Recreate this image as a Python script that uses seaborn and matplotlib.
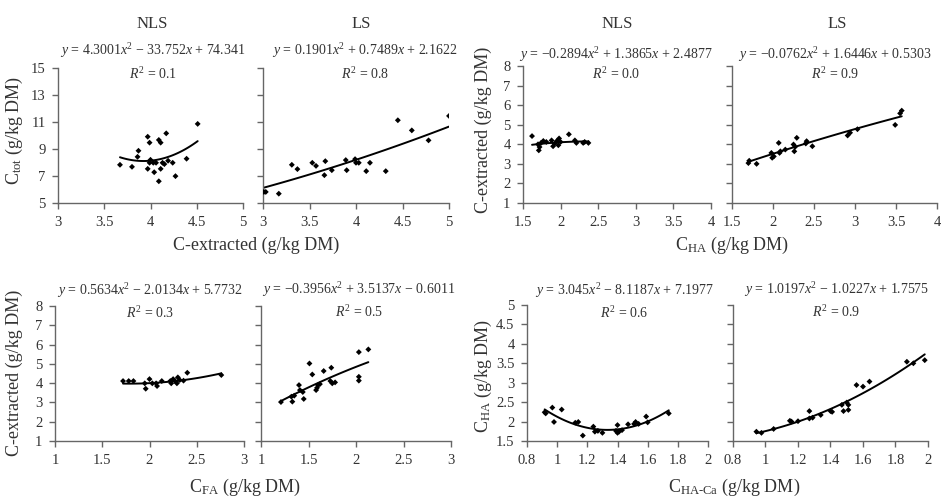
import numpy as np
import matplotlib
matplotlib.use("Agg")
import matplotlib.pyplot as plt
import seaborn as sns
from matplotlib.ticker import FuncFormatter, FixedLocator

# Data (g/kg DM)
# Row 1: C-extracted vs C_tot
cext_nls_x = [3.67, 3.80, 3.86, 3.87, 3.97, 3.99, 3.97, 3.99, 4.00, 4.03, 4.04, 4.06,
              4.09, 4.09, 4.11, 4.11, 4.13, 4.15, 4.17, 4.19, 4.24, 4.27, 4.39, 4.51]
ctot_nls_y = [7.83, 7.68, 8.42, 8.87, 9.91, 9.47, 7.53, 7.98, 8.20, 7.98, 7.28, 7.98,
              6.61, 9.67, 9.47, 7.53, 7.98, 7.88, 10.16, 8.13, 7.98, 6.99, 8.28, 10.86]
cext_ls_x = [3.01, 3.03, 3.17, 3.31, 3.37, 3.53, 3.57, 3.66, 3.67, 3.74, 3.89,
             3.90, 3.99, 4.00, 4.03, 4.11, 4.15, 4.32, 4.45, 4.60, 4.78, 5.00]
ctot_ls_y = [5.82, 5.82, 5.69, 7.83, 7.51, 7.98, 7.75, 7.06, 8.10, 7.43, 8.18,
             7.43, 8.25, 7.98, 7.98, 7.36, 7.98, 7.36, 11.13, 10.38, 9.64, 11.45]

# Row 1: C_HA vs C-extracted
cha_nls_x = [1.62, 1.70, 1.71, 1.72, 1.74, 1.77, 1.81, 1.88, 1.90, 1.92,
             1.95, 1.97, 1.98, 2.00, 2.11, 2.19, 2.21, 2.30, 2.32, 2.37]
cext_nls_y = [4.42, 4.00, 3.69, 3.86, 4.07, 4.17, 4.12, 4.20, 3.90, 4.03,
              4.17, 3.95, 4.30, 4.12, 4.51, 4.20, 4.07, 4.07, 4.12, 4.07]
cha_ls_x = [1.70, 1.71, 1.80, 1.98, 1.99, 2.01, 2.07, 2.08, 2.09, 2.15, 2.25, 2.26,
            2.27, 2.29, 2.40, 2.41, 2.48, 2.91, 2.94, 3.03, 3.49, 3.55, 3.57]
cext_ls_y = [3.04, 3.16, 3.00, 3.56, 3.31, 3.38, 4.07, 3.56, 3.64, 3.73, 3.99, 3.64,
             3.87, 4.33, 4.04, 4.16, 3.90, 4.45, 4.59, 4.77, 4.99, 5.58, 5.72]

# Row 2: C_FA vs C-extracted
cfa_nls_x = [1.72, 1.78, 1.83, 1.95, 1.96, 2.00, 2.03, 2.07, 2.08, 2.13,
             2.22, 2.23, 2.25, 2.27, 2.29, 2.30, 2.32, 2.36, 2.40, 2.76]
cext2_nls_y = [4.11, 4.11, 4.11, 3.99, 3.71, 4.21, 3.99, 3.99, 3.85, 4.11,
               4.11, 3.99, 4.21, 4.11, 3.99, 4.30, 4.16, 4.13, 4.54, 4.42]
cfa_ls_x = [1.21, 1.32, 1.33, 1.35, 1.40, 1.41, 1.44, 1.45, 1.51, 1.54, 1.58, 1.59,
            1.60, 1.62, 1.66, 1.73, 1.74, 1.75, 1.78, 2.03, 2.03, 2.03, 2.13]
cext2_ls_y = [3.02, 3.30, 3.04, 3.35, 3.90, 3.64, 3.54, 3.18, 5.02, 4.45, 3.64, 3.76,
              3.90, 3.95, 4.63, 4.11, 4.80, 3.99, 4.04, 4.33, 4.13, 5.61, 5.75]

# Row 2: C_HA-Ca vs C_HA
chaca_nls_x = [0.917, 0.924, 0.968, 0.979, 1.03, 1.12, 1.14, 1.17, 1.24, 1.25, 1.27, 1.30,
               1.39, 1.40, 1.40, 1.41, 1.43, 1.47, 1.51, 1.52, 1.54, 1.59, 1.60, 1.74]
cha_nls_y = [2.24, 2.21, 2.36, 1.99, 2.31, 1.97, 1.99, 1.64, 1.87, 1.74, 1.76, 1.71,
             1.76, 1.91, 1.71, 1.74, 1.78, 1.93, 1.94, 1.99, 1.94, 2.13, 1.98, 2.21]
chaca_ls_x = [0.944, 0.975, 1.05, 1.15, 1.16, 1.20, 1.27, 1.27, 1.29, 1.34, 1.40, 1.41,
              1.47, 1.48, 1.50, 1.51, 1.51, 1.56, 1.60, 1.64, 1.87, 1.91, 1.98]
cha_ls_y = [1.74, 1.71, 1.81, 2.02, 2.00, 2.01, 2.27, 2.08, 2.10, 2.17, 2.27, 2.25,
            2.43, 2.27, 2.49, 2.43, 2.30, 2.94, 2.90, 3.03, 3.54, 3.50, 3.58]

# quadratic trendlines as printed on the chart
fit_coefs = [
    [4.3001, -33.752, 74.341], [0.1901, 0.7489, 2.1622],
    [-0.2894, 1.3865, 2.4877], [-0.0762, 1.6446, 0.5303],
    [0.5634, -2.0134, 5.7732], [-0.3956, 3.5137, -0.6011],
    [3.045, -8.1187, 7.1977], [1.0197, -1.0227, 1.7575],
]
eq_labels = [
    r"$y$ = 4.3001$x^2$ − 33.752$x$ + 74.341", r"$y$ = 0.1901$x^2$ + 0.7489$x$ + 2.1622",
    r"$y$ = −0.2894$x^2$ + 1.3865$x$ + 2.4877", r"$y$ = −0.0762$x^2$ + 1.6446$x$ + 0.5303",
    r"$y$ = 0.5634$x^2$ − 2.0134$x$ + 5.7732", r"$y$ = −0.3956$x^2$ + 3.5137$x$ − 0.6011",
    r"$y$ = 3.045$x^2$ − 8.1187$x$ + 7.1977", r"$y$ = 1.0197$x^2$ − 1.0227$x$ + 1.7575",
]
r2_labels = ["0.1", "0.8", "0.0", "0.9", "0.3", "0.5", "0.6", "0.9"]
group_titles = ["NLS", "LS", "NLS", "LS"]

# tick labels
xticks_ctot = [3, 3.5, 4, 4.5, 5]
yticks_ctot = [5, 7, 9, 11, 13, 15]
xticks_cha = [1.5, 2, 2.5, 3, 3.5, 4]
yticks_cext = [1, 2, 3, 4, 5, 6, 7, 8]
xticks_cfa = [1, 1.5, 2, 2.5, 3]
xticks_chaca = [0.8, 1, 1.2, 1.4, 1.6, 1.8, 2]
yticks_cha = [1.5, 2, 2.5, 3, 3.5, 4, 4.5, 5]

xs = [cext_nls_x, cext_ls_x, cha_nls_x, cha_ls_x, cfa_nls_x, cfa_ls_x, chaca_nls_x, chaca_ls_x]
ys = [ctot_nls_y, ctot_ls_y, cext_nls_y, cext_ls_y, cext2_nls_y, cext2_ls_y, cha_nls_y, cha_ls_y]
xticks = [xticks_ctot] * 2 + [xticks_cha] * 2 + [xticks_cfa] * 2 + [xticks_chaca] * 2
yticks = [yticks_ctot] * 2 + [yticks_cext] * 4 + [yticks_cha] * 2

# Style
sns.set_theme(style="ticks")
plt.rcParams["font.family"] = ["Liberation Serif", "DejaVu Serif"]
plt.rcParams["mathtext.fontset"] = "custom"
plt.rcParams["mathtext.rm"] = "Liberation Serif"
plt.rcParams["mathtext.it"] = "Liberation Serif:italic"
plt.rcParams["mathtext.bf"] = "Liberation Serif:bold"
TXT = "#333333"

W, H = 941, 496
fig = plt.figure(figsize=(W / 100, H / 100), dpi=100)

# axes boxes in pixels: left, right, top, bottom
boxes = [(58, 243, 68, 203), (263, 449, 68, 203), (523, 711, 66, 203), (732, 937, 66, 203),
         (55, 244, 306, 441), (261, 451, 306, 441), (527, 708, 305, 441), (733, 928, 305, 441)]
eq_x = [153, 365, 616, 835, 150, 359, 624, 836]
eq_y = [51, 51, 55, 55, 291, 290, 291, 290]
r2_y = [74, 74, 74, 74, 313, 312, 313, 312]

fmt = FuncFormatter(lambda v, p: f"{v:g}")

for i in range(8):
    l, r, t, b = boxes[i]
    ax = fig.add_axes([l / W, 1 - b / H, (r - l) / W, (b - t) / H])
    sns.scatterplot(x=xs[i], y=ys[i], ax=ax, marker="D", s=9, color="black",
                    edgecolor="none", zorder=3)
    xx = np.linspace(min(xs[i]), max(xs[i]), 100)
    ax.plot(xx, np.polyval(fit_coefs[i], xx), color="black", lw=1.4, zorder=2)
    ax.set_xlim(xticks[i][0], xticks[i][-1])
    ax.set_ylim(yticks[i][0], yticks[i][-1])
    ax.xaxis.set_major_locator(FixedLocator(xticks[i]))
    ax.yaxis.set_major_locator(FixedLocator(yticks[i]))
    ax.xaxis.set_major_formatter(fmt)
    ax.yaxis.set_major_formatter(fmt)
    sns.despine(ax=ax)
    for s in ["left", "bottom"]:
        ax.spines[s].set_color("#666666")
        ax.spines[s].set_linewidth(1.0)
    ax.tick_params(direction="out", length=4, width=1.0, color="#666666",
                   labelcolor=TXT, labelsize=10.5)
    ax.tick_params(axis="x", pad=5)
    ax.tick_params(axis="y", pad=5)
    if i % 2 == 1:
        ax.tick_params(axis="y", labelleft=False)
    ax.set_xlabel("")
    ax.set_ylabel("")
    fig.text(eq_x[i] / W, 1 - eq_y[i] / H, eq_labels[i], ha="center", va="center",
             fontsize=10, color=TXT)
    fig.text(eq_x[i] / W, 1 - r2_y[i] / H, r"$R^2$ = " + r2_labels[i], ha="center",
             va="center", fontsize=10, color=TXT)

# group titles (top row)
for xp, lab in zip([152, 361, 617, 837], group_titles):
    fig.text(xp / W, 1 - 24 / H, lab, ha="center", va="center", fontsize=12, color=TXT)

# shared axis labels
fig.text(256 / W, 1 - 245 / H, "C-extracted (g/kg DM)", ha="center", va="center",
         fontsize=13, color=TXT)
fig.text(732 / W, 1 - 245 / H, r"C$_{\mathrm{HA}}$ (g/kg DM)", ha="center", va="center",
         fontsize=13, color=TXT)
fig.text(245 / W, 1 - 487 / H, r"C$_{\mathrm{FA}}$ (g/kg DM)", ha="center", va="center",
         fontsize=13, color=TXT)
fig.text(734 / W, 1 - 487 / H, r"C$_{\mathrm{HA\text{-}Ca}}$ (g/kg DM)", ha="center",
         va="center", fontsize=13, color=TXT)
fig.text(14 / W, 1 - 130 / H, r"C$_{\mathrm{tot}}$ (g/kg DM)", ha="center", va="center",
         rotation=90, fontsize=13, color=TXT)
fig.text(483 / W, 1 - 130 / H, "C-extracted (g/kg DM)", ha="center", va="center",
         rotation=90, fontsize=13, color=TXT)
fig.text(14 / W, 1 - 373 / H, "C-extracted (g/kg DM)", ha="center", va="center",
         rotation=90, fontsize=13, color=TXT)
fig.text(483 / W, 1 - 376 / H, r"C$_{\mathrm{HA}}$ (g/kg DM)", ha="center", va="center",
         rotation=90, fontsize=13, color=TXT)

fig.savefig("out.png", dpi=100, facecolor="white")
